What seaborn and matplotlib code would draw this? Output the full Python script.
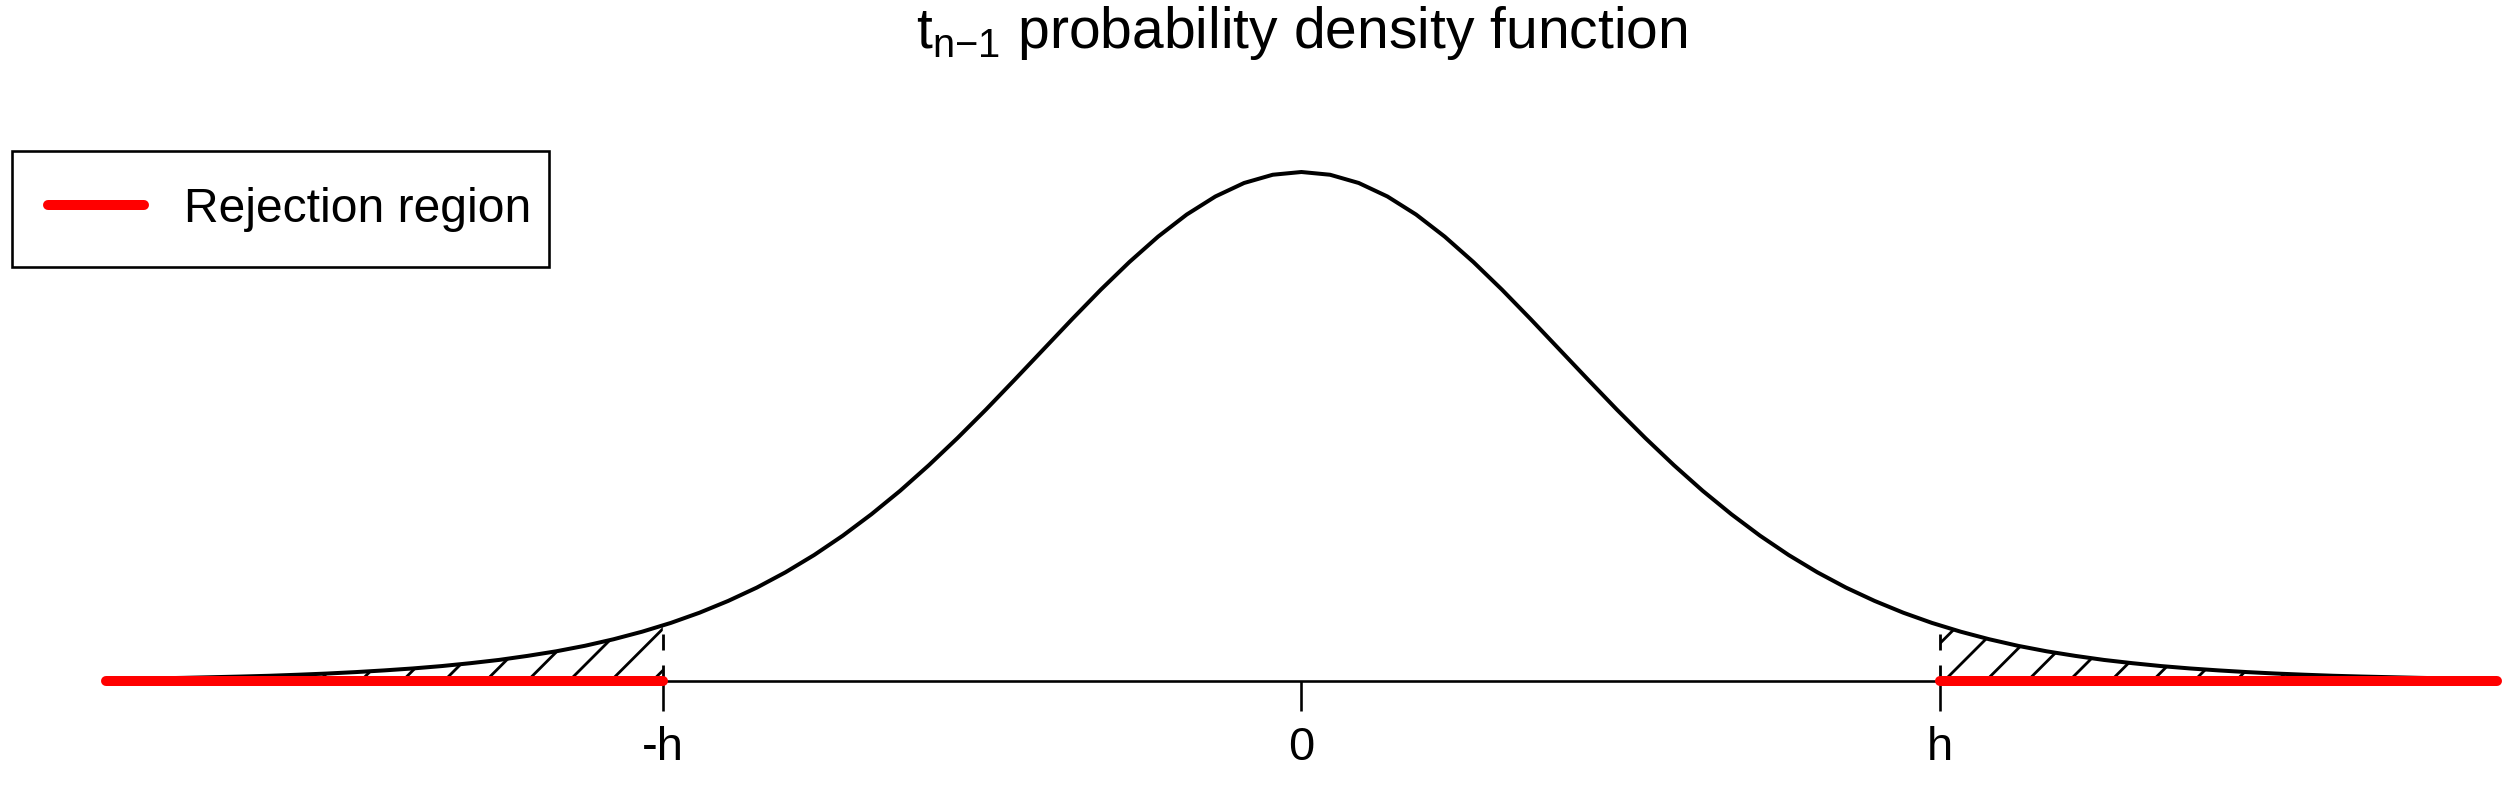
import matplotlib
matplotlib.use("Agg")
import matplotlib.pyplot as plt
import seaborn as sns
import pandas as pd

# t density (df = 10), x >= 0 half (curve is symmetric)
x_half = [0.0, 0.1, 0.2, 0.3, 0.4, 0.5, 0.6, 0.7, 0.8, 0.9,
          1.0, 1.1, 1.2, 1.3, 1.4, 1.5, 1.6, 1.7, 1.8, 1.9,
          2.0, 2.1, 2.2, 2.3, 2.4, 2.5, 2.6, 2.7, 2.8, 2.9,
          3.0, 3.1, 3.2, 3.3, 3.4, 3.5, 3.6, 3.7, 3.8, 3.9, 4.0]
dens_half = [0.3891, 0.3870, 0.3807, 0.3704, 0.3566, 0.3397, 0.3203, 0.2991,
             0.2766, 0.2535, 0.2304, 0.2076, 0.1857, 0.1649, 0.1454, 0.1275,
             0.1111, 0.0963, 0.0831, 0.0714, 0.0612, 0.0522, 0.0444, 0.0377,
             0.0319, 0.0269, 0.0227, 0.0192, 0.0161, 0.0136, 0.0114, 0.0096,
             0.0081, 0.0068, 0.0057, 0.0048, 0.0040, 0.0034, 0.0029, 0.0024,
             0.0020]

crit = 2.228          # h
crit_dens = 0.0424    # density at h
region_edge = 4.17    # outer end of the red rejection segments

tick_pos = [-crit, 0.0, crit]
tick_labels = ["-h", "0", "h"]

x_full = [-v for v in reversed(x_half[1:])] + x_half
d_full = list(reversed(dens_half[1:])) + dens_half
df = pd.DataFrame({"x": x_full, "density": d_full})

# pixel based sizing
DPI = 125
W, H = 2510, 794
PX = 72 / DPI  # points per pixel

sns.set_style("white")
plt.rcParams["font.family"] = ["Liberation Sans", "DejaVu Sans"]
plt.rcParams["text.color"] = "black"
plt.rcParams["mathtext.fontset"] = "custom"
plt.rcParams["mathtext.rm"] = "Liberation Sans"
plt.rcParams["hatch.linewidth"] = 2.8 * PX
plt.rcParams["hatch.color"] = "black"

fig = plt.figure(figsize=(W / DPI, H / DPI), dpi=DPI)
ax = fig.add_axes([0, 0, 1, 1])

# map data to the reference pixel positions
cx, hx = 1301.4, 638.6        # centre pixel, pixels between 0 and h
base_px, peak_px = 681, 172   # baseline / peak rows from top
sx = hx / crit
sy = (base_px - peak_px) / dens_half[0]
ax.set_xlim(-cx / sx, (W - cx) / sx)
ax.set_ylim(-(H - base_px) / sy, base_px / sy)

sns.lineplot(data=df, x="x", y="density", color="black", lw=4.0 * PX,
             estimator=None, sort=False, ax=ax, zorder=3)

# hatched tails
right_x = [crit] + [v for v in x_half if v > crit]
right_y = [crit_dens] + [d for v, d in zip(x_half, dens_half) if v > crit]
left_x = [-v for v in right_x]
for tx, ty in [(left_x, right_y), (right_x, right_y)]:
    ax.fill_between(tx, 0, ty, facecolor="none", edgecolor="black",
                    hatch="/", linewidth=0, zorder=2)
    ax.plot([tx[0], tx[0]], [0, ty[0]], color="black", lw=2.8 * PX,
            dashes=(16 / 2.8, 15 / 2.8), zorder=2)

# rejection region
ax.plot([-region_edge, -crit], [0, 0], color="red", lw=10 * PX,
        solid_capstyle="round", zorder=4, label="Rejection region")
ax.plot([crit, region_edge], [0, 0], color="red", lw=10 * PX,
        solid_capstyle="round", zorder=4)

# axis like R's axis(1): line only between the outer ticks
for s in ["left", "right", "top"]:
    ax.spines[s].set_visible(False)
ax.spines["bottom"].set_position(("data", 0))
ax.spines["bottom"].set_bounds(-crit, crit)
ax.spines["bottom"].set_linewidth(2.6 * PX)
ax.spines["bottom"].set_color("black")
ax.set_xticks(tick_pos)
ax.set_xticklabels(tick_labels)
ax.set_yticks([])
ax.tick_params(axis="x", bottom=True, direction="out", length=30 * PX,
               width=2.6 * PX, pad=15 * PX, labelsize=47 * PX,
               colors="black")
ax.set_xlabel("")
ax.set_ylabel("")

fig.text(cx / W, 1 - 48 / H,
         r"t$_\mathregular{n{-}1}$ probability density function",
         ha="center", va="baseline", fontsize=57 * PX, color="black")

# legend box: 537 x 114 px, top-left at (12, 151)
leg = ax.legend(loc="upper left",
                bbox_to_anchor=(12 / W, 1 - 265 / H, 537 / W, 114 / H),
                bbox_transform=fig.transFigure, mode="expand",
                borderaxespad=0, borderpad=0.74, handlelength=2.02,
                handletextpad=0.82, fontsize=48 * PX, fancybox=False,
                framealpha=1, edgecolor="black")
leg.get_frame().set_linewidth(2.6 * PX)
for t in leg.get_texts():
    t.set_color("black")

fig.savefig("out.png", dpi=DPI)
